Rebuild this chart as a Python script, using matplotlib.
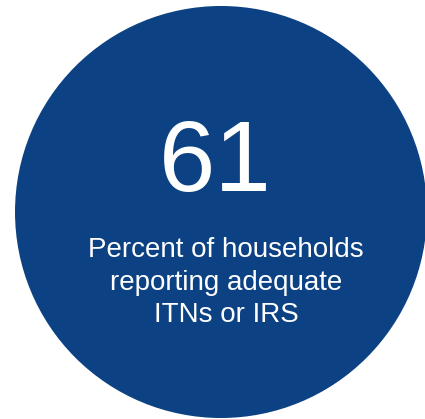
import matplotlib
matplotlib.use("Agg")
import matplotlib.pyplot as plt
from matplotlib.patches import Circle

# данные
value = "61"
label_lines = ["Percent of households", "reporting adequate", "ITNs or IRS"]

blue = "#0C4283"

fig = plt.figure(figsize=(4.25, 4.19), dpi=100)
ax = fig.add_axes([0, 0, 1, 1])
ax.set_xlim(0, 425)
ax.set_ylim(419, 0)
ax.axis("off")

# круг
ax.add_patch(Circle((221, 212), 206, facecolor=blue, edgecolor="none"))

# большое число
ax.text(215, 191, value, color="white", fontsize=73, family="Liberation Sans",
        ha="center", va="baseline")

# подпись
for i, line in enumerate(label_lines):
    ax.text(226, 257 + i * 32.5, line, color="white", fontsize=20,
            family="Liberation Sans", ha="center", va="baseline")

fig.savefig("out.png", dpi=100)
